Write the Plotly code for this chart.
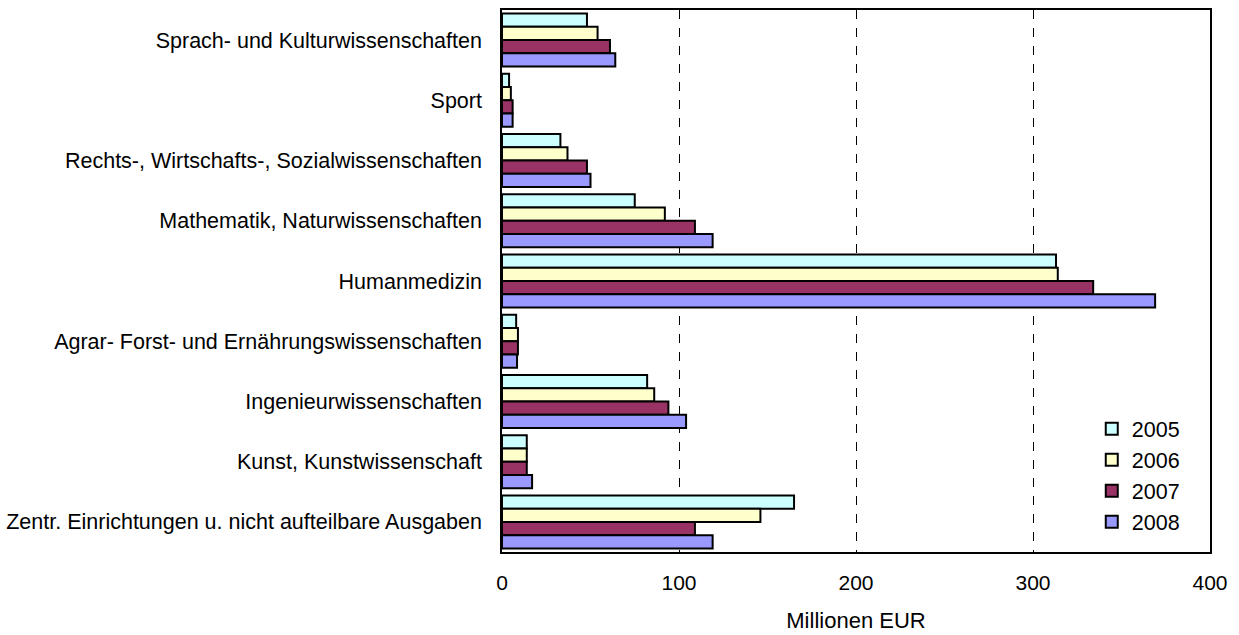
import plotly.graph_objects as go

categories = [
    "Sprach- und Kulturwissenschaften",
    "Sport",
    "Rechts-, Wirtschafts-, Sozialwissenschaften",
    "Mathematik, Naturwissenschaften",
    "Humanmedizin",
    "Agrar- Forst- und Ernährungswissenschaften",
    "Ingenieurwissenschaften",
    "Kunst, Kunstwissenschaft",
    "Zentr. Einrichtungen u. nicht aufteilbare Ausgaben",
]
years = ["2005", "2006", "2007", "2008"]
v2005 = [48, 4, 33, 75, 313, 8, 82, 14, 165]
v2006 = [54, 5, 37, 92, 314, 9, 86, 14, 146]
v2007 = [61, 6, 48, 109, 334, 9, 94, 14, 109]
v2008 = [64, 6, 50, 119, 369, 8.5, 104, 17, 119]
colors = ["#CCFFFF", "#FFFFCC", "#993366", "#9999FF"]

fig = go.Figure()
for yr, vals, c in zip(years, [v2005, v2006, v2007, v2008], colors):
    fig.add_trace(go.Bar(
        y=categories, x=vals, name=yr, orientation="h",
        marker=dict(color=c, line=dict(color="black", width=2)),
    ))

fig.update_layout(
    width=1239, height=635,
    margin=dict(l=502, r=29, t=10, b=83, autoexpand=False),
    paper_bgcolor="white", plot_bgcolor="white",
    font=dict(family="Liberation Sans, Arial, sans-serif", size=21, color="black"),
    barmode="group", bargap=0.12, bargroupgap=0,
    showlegend=True,
    legend=dict(x=0.833, y=0.265, xanchor="left", yanchor="top",
                bgcolor="rgba(0,0,0,0)", font=dict(size=21.5),
                tracegroupgap=0, itemwidth=30),
    xaxis=dict(range=[0, 400], tickvals=[0, 100, 200, 300, 400],
               tickfont=dict(size=21), automargin=False,
               showgrid=True, gridcolor="black", griddash="dash", gridwidth=1,
               zeroline=False, showline=True, linecolor="black", linewidth=1.5,
               mirror=True, ticks="", ticklabelstandoff=11,
               title=dict(text="Millionen EUR", standoff=20, font=dict(size=22))),
    yaxis=dict(autorange="reversed", showline=True, linecolor="black",
               linewidth=1.5, mirror=True, ticks="", ticklabelstandoff=14,
               automargin=False, tickfont=dict(size=21.5), showgrid=False),
)
fig.write_html("out.html")
